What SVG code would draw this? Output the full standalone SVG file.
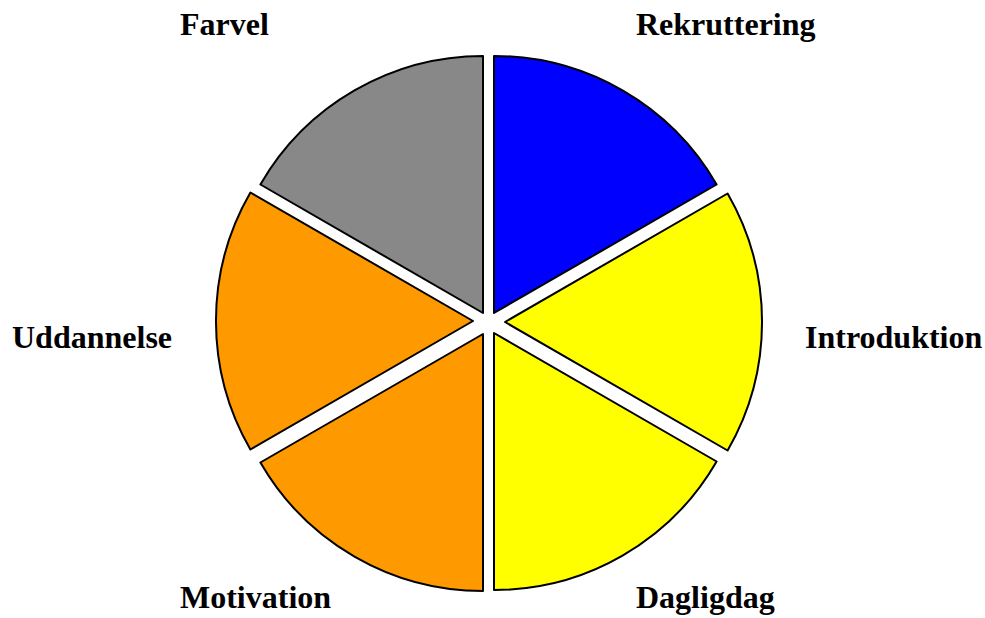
<svg xmlns="http://www.w3.org/2000/svg" width="985" height="618" viewBox="0 0 985 618">
<style>
.s{stroke:#000;stroke-width:2;stroke-linejoin:round}
.l{font-family:"Liberation Serif","Times New Roman",serif;font-weight:bold;font-size:32px;fill:#000}
</style>
<rect width="985" height="618" fill="#fff"/>
<g id="farvel">
<path class="s" fill="#888888" d="M483 313 L260.4 184.5 A257 257 0 0 1 483 56 Z"/>
<text class="l" x="180" y="35">Farvel</text>
</g>
<g id="rekruttering">
<path class="s" fill="#0000ff" d="M494 313 L494 56 A257 257 0 0 1 716.6 184.5 Z"/>
<text class="l" x="636" y="35">Rekruttering</text>
</g>
<g id="introduktion">
<path class="s" fill="#ffff00" d="M505 322 L727.6 193.5 A257 257 0 0 1 727.6 450.5 Z"/>
<text class="l" x="805" y="348">Introduktion</text>
</g>
<g id="dagligdag">
<path class="s" fill="#ffff00" d="M494 333 L716.6 461.5 A257 257 0 0 1 494 590 Z"/>
<text class="l" x="636" y="608">Dagligdag</text>
</g>
<g id="motivation">
<path class="s" fill="#ff9900" d="M483 334 L483 591 A257 257 0 0 1 260.4 462.5 Z"/>
<text class="l" x="180" y="608">Motivation</text>
</g>
<g id="uddannelse">
<path class="s" fill="#ff9900" d="M473 321 L250.4 449.5 A257 257 0 0 1 250.4 192.5 Z"/>
<text class="l" x="12" y="348">Uddannelse</text>
</g>
<g id="connectors"></g>
</svg>
